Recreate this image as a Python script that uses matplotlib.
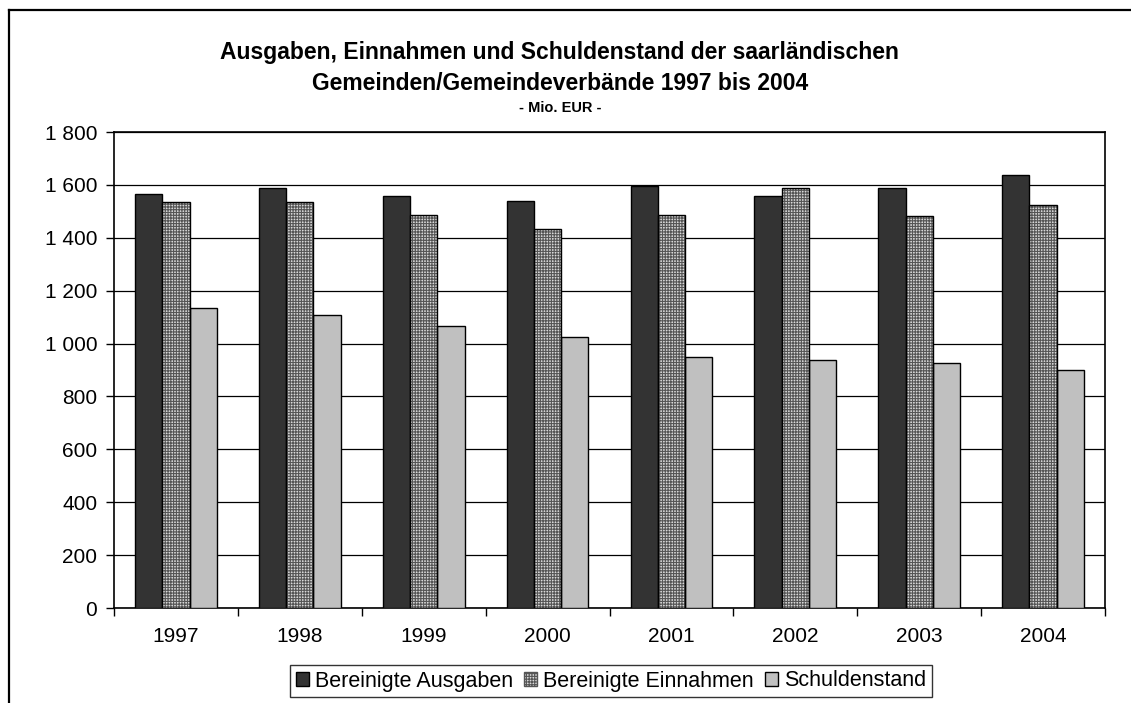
import matplotlib
matplotlib.use("Agg")
import matplotlib.pyplot as plt
import numpy as np
from matplotlib.lines import Line2D
from matplotlib.patches import Patch
from matplotlib.ticker import FuncFormatter

plt.rcParams['font.family'] = ['Liberation Sans', 'DejaVu Sans']
plt.rcParams['hatch.linewidth'] = 0.8

years = ['1997', '1998', '1999', '2000', '2001', '2002', '2003', '2004']
ausgaben = [1565, 1587, 1557, 1539, 1597, 1559, 1587, 1637]
einnahmen = [1534, 1534, 1488, 1432, 1488, 1587, 1483, 1523]
schulden = [1135, 1109, 1067, 1025, 948, 939, 926, 900]
labels = ['Bereinigte Ausgaben', 'Bereinigte Einnahmen', 'Schuldenstand']

fig = plt.figure(figsize=(11.31, 7.03), dpi=100)
ax = fig.add_axes([114 / 1131, 95 / 703, 991 / 1131, 476 / 703])

x = np.arange(len(years))
w = 0.22

ax.bar(x - w, ausgaben, w, color='#333333', edgecolor='black', linewidth=1, zorder=3)
# checker pattern: hatch first, outline on top
ax.bar(x, einnahmen, w, color='#d8d8d8', edgecolor='#555555', hatch='++++++',
       linewidth=0, zorder=3)
ax.bar(x, einnahmen, w, color='none', edgecolor='black', linewidth=1, zorder=4)
ax.bar(x + w, schulden, w, color='#c0c0c0', edgecolor='black', linewidth=1, zorder=3)

ax.set_xlim(-0.5, len(years) - 0.5)
ax.set_ylim(0, 1800)
ax.set_yticks(np.arange(0, 1801, 200))
ax.yaxis.set_major_formatter(FuncFormatter(lambda v, p: f'{int(v):,}'.replace(',', ' ')))
ax.grid(axis='y', color='black', linewidth=0.9, zorder=0)

# ticks on category borders, labels centred
ax.set_xticks(np.arange(-0.5, len(years), 1))
ax.set_xticklabels([])
ax.set_xticks(x, minor=True)
ax.set_xticklabels(years, minor=True)
ax.tick_params(axis='x', which='minor', length=0, pad=14, labelsize=15)
ax.tick_params(axis='x', which='major', length=6, width=1, direction='out')
ax.tick_params(axis='y', length=6, width=1, direction='out', pad=6, labelsize=15)

for s in ax.spines.values():
    s.set_color('black')
    s.set_linewidth(1.2)

fig.text(0.495, 1 - 52 / 703, 'Ausgaben, Einnahmen und Schuldenstand der saarländischen',
         ha='center', va='center', fontsize=16.5, fontweight='bold')
fig.text(0.495, 1 - 83 / 703, 'Gemeinden/Gemeindeverbände 1997 bis 2004',
         ha='center', va='center', fontsize=16.5, fontweight='bold')
fig.text(0.495, 1 - 108 / 703, '- Mio. EUR -', ha='center', va='center',
         fontsize=10.5, fontweight='bold')

handles = [Patch(facecolor='#333333', edgecolor='black'),
           Patch(facecolor='#d8d8d8', edgecolor='#555555', hatch='++++++'),
           Patch(facecolor='#c0c0c0', edgecolor='black')]
leg = fig.legend(handles, labels, loc='center', bbox_to_anchor=(611 / 1131, 1 - 681 / 703),
                 ncol=3, fontsize=15.5, frameon=True, fancybox=False, edgecolor='black',
                 handlelength=0.6, handleheight=0.6, handletextpad=0.3, columnspacing=0.5,
                 borderpad=0.25, borderaxespad=0)
leg.get_frame().set_linewidth(1)

# outer chart frame (runs off the picture at right and bottom)
fig.add_artist(Line2D([9 / 1131, 9 / 1131], [0, 1 - 10 / 703], color='black', lw=1.6,
                      transform=fig.transFigure))
fig.add_artist(Line2D([9 / 1131, 1], [1 - 10 / 703, 1 - 10 / 703], color='black', lw=1.6,
                      transform=fig.transFigure))

fig.savefig('out.png', dpi=100)
